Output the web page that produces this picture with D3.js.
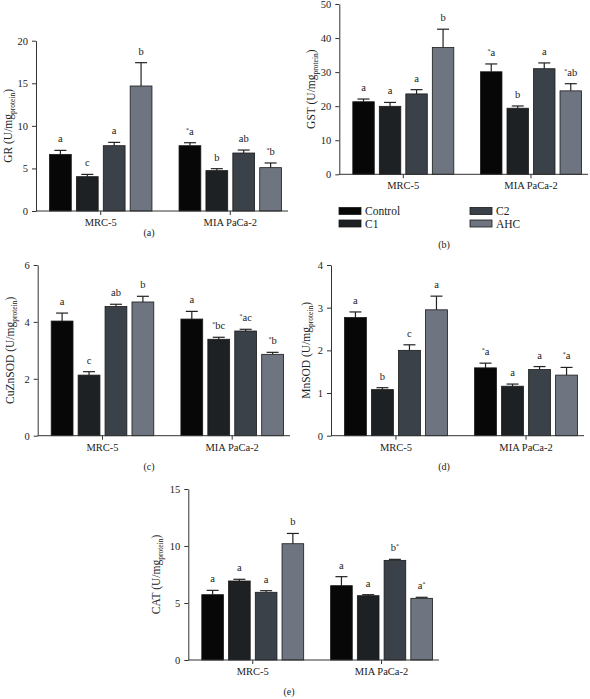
<!DOCTYPE html>
<html><head><meta charset="utf-8">
<script src="https://cdn.jsdelivr.net/npm/d3@7"></script>
<style>
body{margin:0;background:#fff;}
text{font-family:"Liberation Serif","Times New Roman",serif;fill:#222;}
</style></head>
<body><svg id="c" width="590" height="699"></svg>
<script>
// ---- data ----
const groups = ["MRC-5", "MIA PaCa-2"];
const series = ["Control", "C1", "C2", "AHC"];
const colors = ["#070707", "#1d2124", "#3b4148", "#6e7580"];

const grMean = [[6.65, 4.03, 7.67, 14.68], [7.67, 4.74, 6.81, 5.09]];
const grErr  = [[0.47, 0.27, 0.39, 2.74], [0.35, 0.23, 0.35, 0.55]];
const grLetters = [["a", "c", "a", "b"], ["*a", "b", "ab", "*b"]];
const grTicks = [0, 5, 10, 15, 20];

const gstMean = [[21.3, 19.96, 23.6, 37.2], [30.1, 19.4, 31.0, 24.5]];
const gstErr  = [[0.8, 1.14, 1.25, 5.4], [2.3, 0.66, 1.7, 2.1]];
const gstLetters = [["a", "a", "a", "b"], ["*a", "b", "a", "*ab"]];
const gstTicks = [0, 10, 20, 30, 40, 50];

const cuznMean = [[4.03, 2.13, 4.54, 4.7], [4.1, 3.39, 3.68, 2.86]];
const cuznErr  = [[0.28, 0.12, 0.08, 0.2], [0.27, 0.07, 0.06, 0.07]];
const cuznLetters = [["a", "c", "ab", "b"], ["a", "*bc", "*ac", "*b"]];
const cuznTicks = [0, 2, 4, 6];

const mnMean = [[2.77, 1.08, 2.0, 2.95], [1.59, 1.16, 1.55, 1.42]];
const mnErr  = [[0.13, 0.045, 0.13, 0.32], [0.11, 0.05, 0.07, 0.18]];
const mnLetters = [["a", "b", "c", "a"], ["*a", "a", "a", "*a"]];
const mnTicks = [0, 1, 2, 3, 4];

const catMean = [[5.73, 6.93, 5.94, 10.2], [6.52, 5.64, 8.74, 5.41]];
const catErr  = [[0.38, 0.15, 0.14, 0.9], [0.79, 0.09, 0.09, 0.09]];
const catLetters = [["a", "a", "a", "b"], ["a", "a", "b*", "a*"]];
const catTicks = [0, 5, 10, 15];

// ---- drawing ----
const svg = d3.select("#c");

function panel(cfg) {
  const g = svg.append("g");
  const y = d3.scaleLinear().domain([0, cfg.max]).range([cfg.y0, cfg.yTop]);
  const x0 = d3.scaleBand().domain(groups).range([cfg.ax + 13.5, cfg.xEnd - 6.5]).paddingInner(0.209).paddingOuter(0);
  const x1 = d3.scaleBand().domain(series).range([0, x0.bandwidth()]).paddingInner(0.19).paddingOuter(0);

  // y axis
  const ya = g.append("g").attr("transform", `translate(${cfg.ax},0)`)
    .call(d3.axisLeft(y).tickValues(cfg.ticks).tickFormat(d3.format("d")).tickSize(4).tickSizeOuter(0).tickPadding(4));
  ya.selectAll("text").style("font-size", "10.5px").attr("fill", "#222")
    .style("font-family", "'Liberation Serif', serif");
  ya.selectAll("line,path").attr("stroke", "#333");

  // bars
  groups.forEach((grp, gi) => {
    series.forEach((s, si) => {
      const m = cfg.mean[gi][si], e = cfg.err[gi][si];
      const bx = x0(grp) + x1(s), bw = x1.bandwidth(), cx = bx + bw / 2;
      g.append("line").attr("x1", cx).attr("x2", cx).attr("y1", y(m)).attr("y2", y(m + e))
        .attr("stroke", "#222").attr("stroke-width", 1.2);
      g.append("line").attr("x1", cx - 6).attr("x2", cx + 6).attr("y1", y(m + e)).attr("y2", y(m + e))
        .attr("stroke", "#222").attr("stroke-width", 1.2);
      g.append("rect").attr("x", bx).attr("y", y(m)).attr("width", bw).attr("height", y(0) - y(m))
        .attr("fill", colors[si]).attr("stroke", "#1a1a1a").attr("stroke-width", 0.8);
      const lab = cfg.letters[gi][si];
      const t = g.append("text").attr("x", cx).attr("y", y(m + e) - 8)
        .attr("text-anchor", "middle").style("font-size", "10.5px");
      if (lab.startsWith("*")) {
        t.append("tspan").text("*").style("font-size", "6px").attr("dy", -3);
        t.append("tspan").text(lab.slice(1)).attr("dy", 3);
      } else if (lab.endsWith("*")) {
        t.append("tspan").text(lab.slice(0, -1));
        t.append("tspan").text("*").style("font-size", "6px").attr("dy", -3);
      } else t.text(lab);
    });
  });

  // x axis
  g.append("line").attr("x1", cfg.ax).attr("x2", cfg.xEnd).attr("y1", cfg.y0).attr("y2", cfg.y0)
    .attr("stroke", "#333").attr("stroke-width", 1);
  groups.forEach(grp => {
    const cx = x0(grp) + x0.bandwidth() / 2;
    g.append("line").attr("x1", cx).attr("x2", cx).attr("y1", cfg.y0).attr("y2", cfg.y0 + 4)
      .attr("stroke", "#333");
    g.append("text").attr("x", cx).attr("y", cfg.y0 + 15).attr("text-anchor", "middle")
      .style("font-size", "10.5px").text(grp);
  });

  // y title
  const yt = g.append("text")
    .attr("transform", `translate(${cfg.tx},${(cfg.y0 + cfg.yTop) / 2}) rotate(-90)`)
    .attr("text-anchor", "middle").style("font-size", "11.5px");
  yt.append("tspan").text(cfg.title + " (U/mg");
  yt.append("tspan").text("protein").style("font-size", "7.5px").attr("dy", 3);
  yt.append("tspan").text(")").attr("dy", -3);

  g.append("text").attr("x", cfg.lx).attr("y", cfg.ly).attr("text-anchor", "middle")
    .style("font-size", "10px").text(cfg.label);
}

panel({title: "GR", mean: grMean, err: grErr, letters: grLetters, ticks: grTicks, max: 20,
  ax: 36, yTop: 40.7, y0: 211, xEnd: 288, tx: 12, lx: 149, ly: 236, label: "(a)"});
panel({title: "GST", mean: gstMean, err: gstErr, letters: gstLetters, ticks: gstTicks, max: 50,
  ax: 339.3, yTop: 4, y0: 174.3, xEnd: 588, tx: 315, lx: 444, ly: 248, label: "(b)"});
panel({title: "CuZnSOD", mean: cuznMean, err: cuznErr, letters: cuznLetters, ticks: cuznTicks, max: 6,
  ax: 37.7, yTop: 265, y0: 435.7, xEnd: 290, tx: 14, lx: 149, ly: 470, label: "(c)"});
panel({title: "MnSOD", mean: mnMean, err: mnErr, letters: mnLetters, ticks: mnTicks, max: 4,
  ax: 331, yTop: 265, y0: 435.7, xEnd: 584, tx: 310, lx: 444, ly: 470, label: "(d)"});
panel({title: "CAT", mean: catMean, err: catErr, letters: catLetters, ticks: catTicks, max: 15,
  ax: 188.3, yTop: 489, y0: 660, xEnd: 439, tx: 160, lx: 289, ly: 695, label: "(e)"});

// legend
const legPos = [[339, 207.5], [339, 220], [470, 207.5], [470, 220]];
series.forEach((s, i) => {
  const [lx, ly] = legPos[i];
  svg.append("rect").attr("x", lx).attr("y", ly).attr("width", 22).attr("height", 7)
    .attr("fill", colors[i]).attr("stroke", "#1a1a1a").attr("stroke-width", 0.8);
  svg.append("text").attr("x", lx + 26).attr("y", ly + 7.5).style("font-size", "11.5px").text(s);
});
</script></body></html>
